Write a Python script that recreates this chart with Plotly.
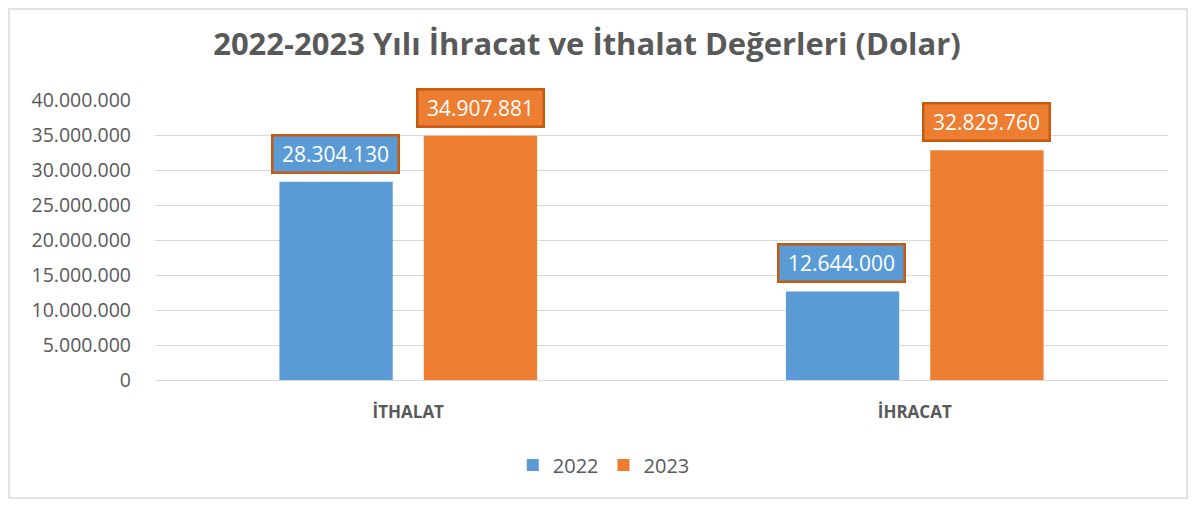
import plotly.graph_objects as go

categories = ["İTHALAT", "İHRACAT"]
series_names = ["2022", "2023"]
values_2022 = [28304130, 12644000]
values_2023 = [34907881, 32829760]
y_ticks = [0, 5000000, 10000000, 15000000, 20000000, 25000000, 30000000, 35000000, 40000000]

colors = ["#5B9BD5", "#ED7D31"]
border_col = "#C55A11"
text_col = "#595959"
FONT = "Open Sans, sans-serif"

def fmt(v):
    return f"{v:,}".replace(",", ".")

fig = go.Figure()
for name, vals, col in zip(series_names, [values_2022, values_2023], colors):
    fig.add_trace(go.Bar(x=categories, y=vals, name=name, marker=dict(color=col, line=dict(width=0))))

# Data labels as boxed annotations
for i, (vals, col) in enumerate(zip([values_2022, values_2023], colors)):
    shift = -73 if i == 0 else 72
    for c, v in zip(categories, vals):
        fig.add_annotation(x=c, y=v, text=fmt(v), showarrow=False, xshift=shift, yshift=8,
                           yanchor="bottom", bgcolor=col, bordercolor=border_col, borderwidth=2.5,
                           borderpad=3, width=118, height=29,
                           font=dict(family=FONT, size=21, color="white"))

# outer chart border
fig.add_shape(type="rect", xref="paper", yref="paper", x0=-0.1441, x1=1.0188, y0=-0.421, y1=1.325,
              line=dict(color="#D9D9D9", width=1.5), fillcolor="rgba(0,0,0,0)", layer="below")

fig.update_layout(
    width=1180, height=491,
    margin=dict(l=147, r=20, t=92, b=119),
    paper_bgcolor="white", plot_bgcolor="white",
    separators=",.",
    title=dict(text="<b>2022-2023 Yılı İhracat ve İthalat Değerleri (Dolar)</b>", x=0.4907, xanchor="center",
               y=0.927, yanchor="middle",
               font=dict(family=FONT, size=31, color=text_col)),
    barmode="group", bargap=0.43, bargroupgap=0.215,
    font=dict(family=FONT, color=text_col),
    showlegend=True,
    legend=dict(orientation="h", x=0.443, xanchor="center", y=-0.304, yanchor="middle",
                font=dict(size=20, color=text_col), itemwidth=30, tracegroupgap=0),
    yaxis=dict(range=[0, 40000000], tickvals=y_ticks, tickformat=",d", showgrid=True,
               gridcolor="#D9D9D9", gridwidth=1, zeroline=False, showline=False,
               tickfont=dict(size=19.5, color=text_col), ticks="", ticklabelstandoff=23),
    xaxis=dict(showline=True, linecolor="#D9D9D9", linewidth=1, ticks="",
               tickfont=dict(size=17, color=text_col, family=FONT, weight="bold"),
               ticklabelstandoff=17),
)

fig.write_html("out.html")
